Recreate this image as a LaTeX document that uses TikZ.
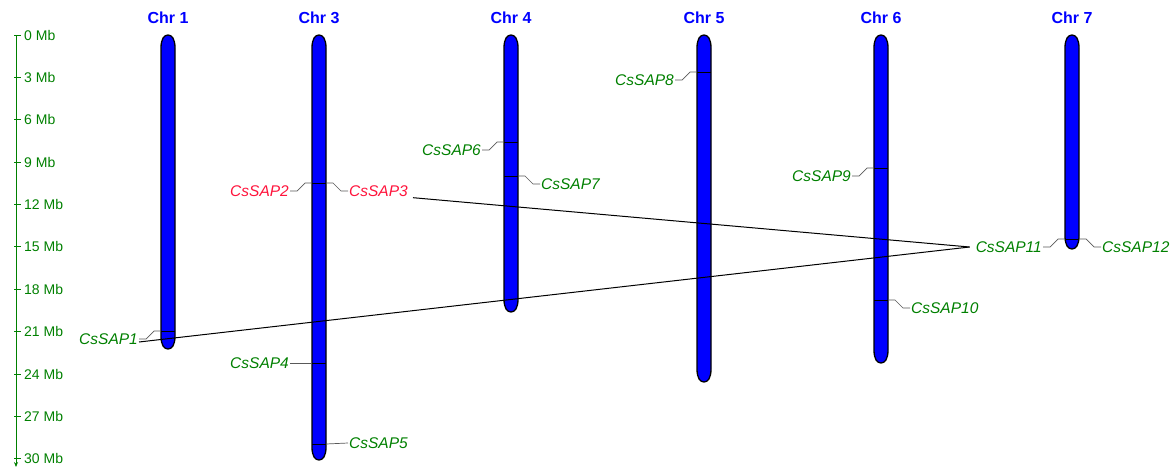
\documentclass[tikz,border=0pt]{standalone}
\usepackage{fontspec}
\setmainfont{Liberation Sans}
\usetikzlibrary{arrows.meta}
\definecolor{chrBlue}{RGB}{0, 0, 255}
\definecolor{geneGreen}{RGB}{0, 128, 0}
\definecolor{geneRed}{RGB}{255, 20, 60}

\tikzset{
  chrom/.style={fill=chrBlue, draw=black, line width=1.3pt},
  chrtitle/.style={text=chrBlue, font=\bfseries\fontsize{16}{16}\selectfont},
  gene/.style={text=geneGreen, inner sep=1pt, font=\itshape\fontsize{15.5}{15.5}\selectfont},
  dupgene/.style={gene, text=geneRed},
  genetick/.style={draw=black, line width=0.8pt},
  leader/.style={draw=black!65, line width=0.7pt},
  link/.style={draw=black, line width=1pt},
  mbaxis/.style={draw=geneGreen, line width=1pt},
  mblabel/.style={text=geneGreen, anchor=west, inner sep=1pt, font=\fontsize{14}{14}\selectfont},
}

% bar of one chromosome: centre x, bottom y (top is always at 35)
\newcommand{\chrbar}[2]{%
  \draw[chrom] (#1-7,48) .. controls (#1-7,39) and (#1-4,35) .. (#1,35)
    .. controls (#1+4,35) and (#1+7,39) .. (#1+7,48)
    -- (#1+7,#2-13) .. controls (#1+7,#2-4) and (#1+4,#2) .. (#1,#2)
    .. controls (#1-4,#2) and (#1-7,#2-4) .. (#1-7,#2-13) -- cycle;}

\begin{document}
\begin{tikzpicture}[x=1pt, y=-1pt]
  \useasboundingbox (0,0) rectangle (1176,474);

  % scale in Mb
  \draw[mbaxis, -{Stealth[length=5pt, width=4pt]}] (16,35) -- (16,467);
  \foreach \m in {0,3,...,30} {
    \draw[mbaxis] (14,35+14.13*\m) -- (21,35+14.13*\m);
    \node[mblabel] (mb\m) at (23,35+14.13*\m) {\m\ Mb};
  }

  % chromosomes
  \chrbar{168}{349}
  \chrbar{319}{460}
  \chrbar{511}{312}
  \chrbar{704}{382}
  \chrbar{881}{363}
  \chrbar{1072}{249}
  \node[chrtitle] (chr1) at (168,18) {Chr 1};
  \node[chrtitle] (chr3) at (319,18) {Chr 3};
  \node[chrtitle] (chr4) at (511,18) {Chr 4};
  \node[chrtitle] (chr5) at (704,18) {Chr 5};
  \node[chrtitle] (chr6) at (881,18) {Chr 6};
  \node[chrtitle] (chr7) at (1072,18) {Chr 7};

  % gene positions
  \coordinate (g1) at (168,331);
  \coordinate (g2) at (319,183);
  \coordinate (g4) at (319,363);
  \coordinate (g5) at (319,444);
  \coordinate (g6) at (511,142);
  \coordinate (g7) at (511,176);
  \coordinate (g8) at (704,72);
  \coordinate (g9) at (881,168);
  \coordinate (g10) at (881,300);
  \coordinate (g11) at (1072,239);
  \foreach \g in {g1,g2,g4,g5,g6,g7,g8,g9,g10,g11}
    \draw[genetick] ([xshift=-7pt]\g) -- ([xshift=7pt]\g);

  % labels
  \node[gene, anchor=east] (s1) at (139,339) {CsSAP1};
  \node[dupgene, anchor=east] (s2) at (290,191) {CsSAP2};
  \node[dupgene, anchor=west] (s3) at (348,191) {CsSAP3};
  \node[gene, anchor=east] (s4) at (290,363) {CsSAP4};
  \node[gene, anchor=west] (s5) at (348,443) {CsSAP5};
  \node[gene, anchor=east] (s6) at (482,150) {CsSAP6};
  \node[gene, anchor=west] (s7) at (540,184) {CsSAP7};
  \node[gene, anchor=east] (s8) at (675,80) {CsSAP8};
  \node[gene, anchor=east] (s9) at (852,176) {CsSAP9};
  \node[gene, anchor=west] (s10) at (910,308) {CsSAP10};
  \node[gene, anchor=east] (s11) at (1043,247) {CsSAP11};
  \node[gene, anchor=west] (s12) at (1101,247) {CsSAP12};

  % leaders
  \draw[leader] ([xshift=-7pt]g1) -- ++(-7,0) -- ++(-8,8) -- (s1.east);
  \draw[leader] ([xshift=-7pt]g2) -- ++(-7,0) -- ++(-8,8) -- (s2.east);
  \draw[leader] ([xshift=7pt]g2) -- ++(7,0) -- ++(8,8) -- (s3.west);
  \draw[leader] ([xshift=-7pt]g4) -- (s4.east);
  \draw[leader] ([xshift=7pt]g5) -- (s5.west);
  \draw[leader] ([xshift=-7pt]g6) -- ++(-7,0) -- ++(-8,8) -- (s6.east);
  \draw[leader] ([xshift=7pt]g7) -- ++(7,0) -- ++(8,8) -- (s7.west);
  \draw[leader] ([xshift=-7pt]g8) -- ++(-7,0) -- ++(-8,8) -- (s8.east);
  \draw[leader] ([xshift=-7pt]g9) -- ++(-7,0) -- ++(-8,8) -- (s9.east);
  \draw[leader] ([xshift=7pt]g10) -- ++(7,0) -- ++(8,8) -- (s10.west);
  \draw[leader] ([xshift=-7pt]g11) -- ++(-7,0) -- ++(-8,8) -- (s11.east);
  \draw[leader] ([xshift=7pt]g11) -- ++(7,0) -- ++(8,8) -- (s12.west);

  % segmental duplications
  \draw[link] ([yshift=-3pt]s1.east) -- ([xshift=-5pt]s11.west);
  \draw[link] ([xshift=4pt]s3.south east) -- ([xshift=-5pt]s11.west);
\end{tikzpicture}
\end{document}
